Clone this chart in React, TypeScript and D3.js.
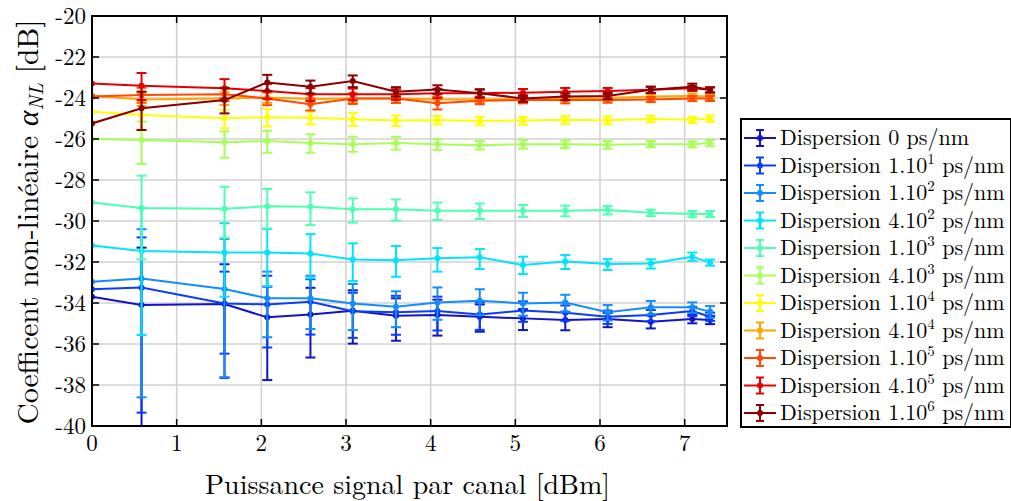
import React from 'react';
import * as d3 from 'd3';

// Signal power per channel [dBm]
const powers = [0, 0.585, 1.565, 2.07, 2.58, 3.08, 3.59, 4.08, 4.58, 5.09, 5.59, 6.09, 6.6, 7.09, 7.3];

// Legend: mantissa and exponent of dispersion
const dispMantissa = ['0', '1', '1', '4', '1', '4', '1', '4', '1', '4', '1'];
const dispExponent = ['', '1', '2', '2', '3', '3', '4', '4', '5', '5', '6'];
const seriesColors = ['#1212c8', '#0a3cff', '#138cff', '#00e4ff', '#4dffb0', '#a6ff55', '#ffff00', '#ffa500', '#ff4a00', '#e40000', '#8b0000'];

// Nonlinear coefficient [dB]
const disp0 = [-33.69, -34.1, -34.05, -34.7, -34.56, -34.38, -34.62, -34.59, -34.67, -34.75, -34.83, -34.78, -34.91, -34.78, -34.83];
const disp1e1 = [-33.33, -33.25, -34.02, -34.07, -33.94, -34.4, -34.45, -34.39, -34.56, -34.37, -34.47, -34.67, -34.59, -34.39, -34.67];
const disp1e2 = [-32.96, -32.8, -33.32, -33.77, -33.77, -34.02, -34.18, -33.97, -33.89, -34.02, -33.98, -34.45, -34.21, -34.21, -34.42];
const disp4e2 = [-31.2, -31.46, -31.54, -31.54, -31.59, -31.88, -31.92, -31.82, -31.77, -32.15, -31.98, -32.1, -32.07, -31.74, -32.03];
const disp1e3 = [-29.1, -29.37, -29.4, -29.28, -29.3, -29.43, -29.43, -29.5, -29.5, -29.5, -29.5, -29.46, -29.6, -29.66, -29.66];
const disp4e3 = [-26.0, -26.05, -26.16, -26.1, -26.2, -26.25, -26.2, -26.26, -26.3, -26.25, -26.25, -26.28, -26.25, -26.26, -26.2];
const disp1e4 = [-24.67, -24.83, -24.99, -24.94, -24.96, -25.04, -25.1, -25.07, -25.12, -25.1, -25.06, -25.08, -25.02, -25.06, -25.0];
const disp4e4 = [-23.89, -24.07, -24.02, -23.97, -24.05, -24.02, -24.02, -24.07, -24.07, -24.05, -24.02, -24.0, -23.93, -23.9, -23.93];
const disp1e5 = [-23.93, -23.85, -23.82, -24.02, -24.31, -24.02, -24.02, -24.26, -24.13, -24.1, -24.1, -24.1, -24.07, -24.02, -24.02];
const disp4e5 = [-23.29, -23.4, -23.53, -23.66, -23.82, -23.82, -23.82, -23.77, -23.77, -23.74, -23.69, -23.66, -23.6, -23.53, -23.6];
const disp1e6 = [-25.24, -24.5, -24.1, -23.24, -23.45, -23.17, -23.69, -23.58, -23.77, -24.02, -23.93, -23.9, -23.6, -23.45, -23.6];

// Error bars (upper / lower extent, dB)
const up0 = [0, 2.8, 1.94, 1.5, 1.3, 1.0, 0.85, 0.75, 0.6, 0.45, 0.4, 0.3, 0.3, 0.2, 0.2];
const dn0 = [0, 10, 3.6, 3.06, 2.1, 1.6, 1.22, 1.0, 0.73, 0.57, 0.5, 0.4, 0.33, 0.21, 0.2];
const up1e1 = [0, 2.45, 1.55, 1.4, 1.1, 0.9, 0.8, 0.7, 0.6, 0.45, 0.35, 0.3, 0.25, 0.2, 0.2];
const dn1e1 = [0, 6.1, 2.45, 2.1, 1.6, 1.3, 1.1, 0.95, 0.75, 0.55, 0.4, 0.35, 0.3, 0.25, 0.2];
const up1e2 = [0, 2.4, 2.45, 1.3, 1.1, 0.95, 0.75, 0.73, 0.56, 0.52, 0.38, 0.35, 0.31, 0.24, 0.27];
const dn1e2 = [0, 5.8, 4.3, 1.9, 1.5, 1.3, 1.0, 0.85, 0.7, 0.6, 0.45, 0.4, 0.35, 0.27, 0.3];
const up4e2 = [0, 2.1, 1.43, 1.15, 0.95, 0.79, 0.7, 0.5, 0.4, 0.41, 0.32, 0.24, 0.2, 0.2, 0.15];
const dn4e2 = [0, 4.1, 2.15, 1.63, 1.2, 1.05, 0.8, 0.65, 0.57, 0.44, 0.36, 0.29, 0.25, 0.2, 0.15];
const up1e3 = [0, 1.58, 1.07, 0.84, 0.7, 0.53, 0.48, 0.4, 0.35, 0.28, 0.25, 0.2, 0.15, 0.15, 0.15];
const dn1e3 = [0, 2.5, 1.42, 1.08, 0.9, 0.65, 0.55, 0.45, 0.4, 0.3, 0.27, 0.22, 0.16, 0.16, 0.15];
const up4e3 = [0, 0.9, 0.53, 0.5, 0.43, 0.36, 0.3, 0.25, 0.2, 0.2, 0.18, 0.18, 0.15, 0.15, 0.15];
const dn4e3 = [0, 1.17, 0.75, 0.57, 0.47, 0.37, 0.32, 0.27, 0.22, 0.22, 0.2, 0.2, 0.15, 0.15, 0.15];
const up1e4 = [0, 0.6, 0.4, 0.4, 0.3, 0.3, 0.25, 0.2, 0.2, 0.18, 0.18, 0.18, 0.15, 0.15, 0.15];
const dn1e4 = [0, 0.75, 0.48, 0.45, 0.33, 0.32, 0.27, 0.22, 0.22, 0.2, 0.2, 0.2, 0.16, 0.16, 0.16];
const up4e4 = [0, 0.3, 0.3, 0.25, 0.22, 0.2, 0.18, 0.15, 0.15, 0.15, 0.12, 0.12, 0.12, 0.12, 0.12];
const dn4e4 = [0, 0.32, 0.32, 0.27, 0.24, 0.22, 0.2, 0.17, 0.17, 0.16, 0.13, 0.13, 0.13, 0.13, 0.13];
const up1e5 = [0, 0.35, 0.3, 0.3, 0.28, 0.25, 0.2, 0.3, 0.15, 0.15, 0.15, 0.12, 0.12, 0.12, 0.12];
const dn1e5 = [0, 0.38, 0.33, 0.33, 0.3, 0.27, 0.22, 0.3, 0.17, 0.16, 0.16, 0.13, 0.13, 0.13, 0.13];
const up4e5 = [0, 0.62, 0.45, 0.35, 0.3, 0.28, 0.25, 0.22, 0.2, 0.18, 0.18, 0.15, 0.15, 0.12, 0.12];
const dn4e5 = [0, 0.7, 0.5, 0.38, 0.33, 0.3, 0.27, 0.24, 0.22, 0.2, 0.2, 0.16, 0.16, 0.13, 0.13];
const up1e6 = [0, 0.81, 0.6, 0.37, 0.3, 0.27, 0.22, 0.2, 0.18, 0.15, 0.15, 0.15, 0.15, 0.15, 0.12];
const dn1e6 = [0, 1.06, 0.65, 0.42, 0.33, 0.3, 0.24, 0.22, 0.2, 0.17, 0.17, 0.16, 0.16, 0.16, 0.13];

const seriesValues = [disp0, disp1e1, disp1e2, disp4e2, disp1e3, disp4e3, disp1e4, disp4e4, disp1e5, disp4e5, disp1e6];
const seriesUp = [up0, up1e1, up1e2, up4e2, up1e3, up4e3, up1e4, up4e4, up1e5, up4e5, up1e6];
const seriesDown = [dn0, dn1e1, dn1e2, dn4e2, dn1e3, dn4e3, dn1e4, dn4e4, dn1e5, dn4e5, dn1e6];

const xTicks = [0, 1, 2, 3, 4, 5, 6, 7];
const yTicks = [-40, -38, -36, -34, -32, -30, -28, -26, -24, -22, -20];

const W = 1011;
const H = 501;
const L = 92, R = 727, T = 16, B = 426;
const lm = { fontFamily: "'Latin Modern Roman'" };
const lmItalic = { fontFamily: "'Latin Modern Roman'", fontStyle: 'italic' as const };

export default function App() {
  const x = d3.scaleLinear().domain([0, 7.5]).range([L, R]);
  const y = d3.scaleLinear().domain([-40, -20]).range([B, T]);
  const line = d3.line<[number, number]>().x(d => x(d[0])).y(d => y(d[1]));
  const cap = 5;

  const legX = 741, legY = 119, legW = 270, legH = 308;
  const legStep = 27.5;
  const legFirst = 138;

  return (
    <svg width={W} height={H} style={{ position: 'absolute', left: 0, top: 0, background: '#fff' }}>
      <defs>
        <clipPath id="plotclip">
          <rect x={L} y={T} width={R - L} height={B - T} />
        </clipPath>
      </defs>
      <rect x={0} y={0} width={W} height={H} fill="#fff" />
      {/* grid */}
      <g stroke="#d2d2d2" strokeWidth={1.6}>
        {xTicks.filter(t => t > 0).map(t => (
          <line key={'gx' + t} x1={x(t)} x2={x(t)} y1={T} y2={B} />
        ))}
        {yTicks.filter(t => t > -40 && t < -20).map(t => (
          <line key={'gy' + t} x1={L} x2={R} y1={y(t)} y2={y(t)} />
        ))}
      </g>
      {/* series */}
      <g clipPath="url(#plotclip)">
        {seriesValues.map((vals, si) => {
          const col = seriesColors[si];
          const pts: [number, number][] = powers.map((p, i) => [p, vals[i]]);
          return (
            <g key={'s' + si}>
              <path d={line(pts) || ''} fill="none" stroke={col} strokeWidth={2} />
              {powers.map((p, i) => {
                const u = seriesUp[si][i];
                const dn = seriesDown[si][i];
                if (u === 0 && dn === 0) return null;
                const cx = x(p);
                const yt = y(vals[i] + u);
                const yb = y(vals[i] - dn);
                return (
                  <g key={'e' + i} stroke={col} strokeWidth={2}>
                    <line x1={cx} x2={cx} y1={yt} y2={yb} />
                    <line x1={cx - cap} x2={cx + cap} y1={yt} y2={yt} />
                    <line x1={cx - cap} x2={cx + cap} y1={yb} y2={yb} />
                  </g>
                );
              })}
              {powers.map((p, i) => (
                <circle key={'m' + i} cx={x(p)} cy={y(vals[i])} r={3} fill={col} />
              ))}
            </g>
          );
        })}
      </g>
      {/* ticks */}
      <g stroke="#000" strokeWidth={1.5}>
        {yTicks.map(t => (
          <g key={'ty' + t}>
            <line x1={L} x2={L + 7} y1={y(t)} y2={y(t)} />
            <line x1={R} x2={R - 7} y1={y(t)} y2={y(t)} />
          </g>
        ))}
        {xTicks.map(t => (
          <g key={'tx' + t}>
            <line x1={x(t)} x2={x(t)} y1={B} y2={B - 7} />
            <line x1={x(t)} x2={x(t)} y1={T} y2={T + 7} />
          </g>
        ))}
      </g>
      <rect x={L} y={T} width={R - L} height={B - T} fill="none" stroke="#000" strokeWidth={2} />
      {/* tick labels */}
      {yTicks.map(t => (
        <text key={'ly' + t} x={L - 6} y={y(t) + 8} textAnchor="end" style={lm} fontSize={23} fill="#000">{String(t)}</text>
      ))}
      {xTicks.map(t => (
        <text key={'lx' + t} x={x(t)} y={451} textAnchor="middle" style={lm} fontSize={23} fill="#000">{String(t)}</text>
      ))}
      {/* axis titles */}
      <text x={(L + R) / 2 - 2} y={494} textAnchor="middle" style={lm} fontSize={28}>
        Puissance signal par canal [dBm]
      </text>
      <text transform={`translate(38, 222) rotate(-90)`} textAnchor="middle" style={lm} fontSize={29.5}>
        Coefficent non-linéaire <tspan style={lmItalic}>α</tspan>
        <tspan style={lmItalic} fontSize={20} dy={5}>NL</tspan>
        <tspan dy={-5}> [dB]</tspan>
      </text>
      {/* legend */}
      <rect x={legX} y={legY} width={legW} height={legH} fill="#fff" stroke="#000" strokeWidth={2} />
      {dispMantissa.map((m, i) => {
        const cy = legFirst + i * legStep;
        const col = seriesColors[i];
        return (
          <g key={'leg' + i}>
            <line x1={744} x2={776} y1={cy} y2={cy} stroke={col} strokeWidth={2} />
            <line x1={760} x2={760} y1={cy - 8} y2={cy + 8} stroke={col} strokeWidth={2} />
            <line x1={756} x2={764} y1={cy - 8} y2={cy - 8} stroke={col} strokeWidth={2} />
            <line x1={756} x2={764} y1={cy + 8} y2={cy + 8} stroke={col} strokeWidth={2} />
            <circle cx={760} cy={cy} r={3} fill={col} />
            <text x={780} y={cy + 7} style={lm} fontSize={22} fill="#000">
              {dispExponent[i] === '' ? (
                <tspan>Dispersion {m} ps/nm</tspan>
              ) : (
                <>
                  <tspan>Dispersion {m}.10</tspan>
                  <tspan fontSize={15} dy={-9}>{dispExponent[i]}</tspan>
                  <tspan dy={9}> ps/nm</tspan>
                </>
              )}
            </text>
          </g>
        );
      })}
    </svg>
  );
}
